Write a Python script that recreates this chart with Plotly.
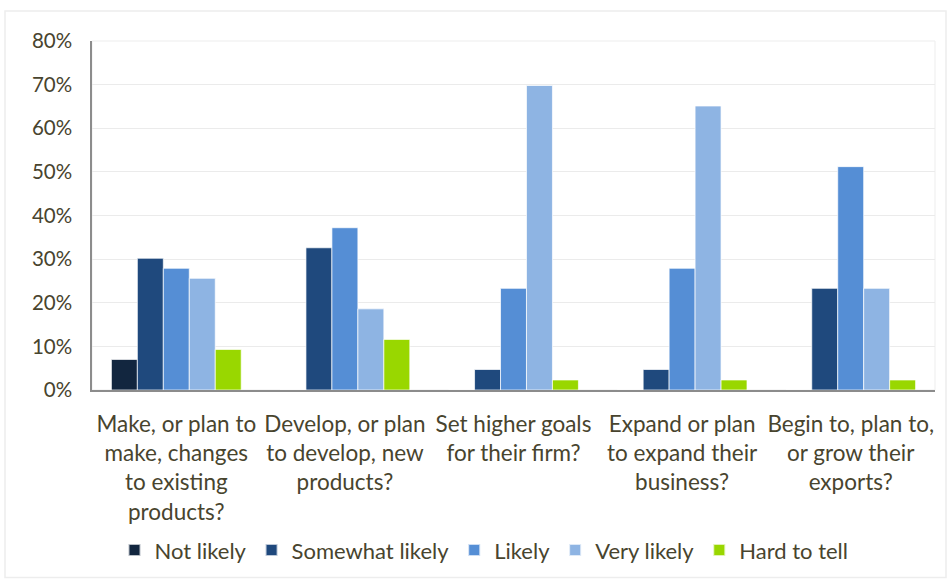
import plotly.graph_objects as go

# Survey questions (x categories)
categories = [
    "Make, or plan to<br>make, changes<br>to existing<br>products?",
    "Develop, or plan<br>to develop, new<br>products?",
    "Set higher goals<br>for their firm?",
    "Expand or plan<br>to expand their<br>business?",
    "Begin to, plan to,<br>or grow their<br>exports?",
]

# Share of respondents per answer (fractions)
not_likely      = [0.070, 0.000, 0.000, 0.000, 0.000]
somewhat_likely = [0.302, 0.326, 0.047, 0.047, 0.233]
likely          = [0.279, 0.372, 0.233, 0.279, 0.512]
very_likely     = [0.256, 0.186, 0.698, 0.651, 0.233]
hard_to_tell    = [0.093, 0.116, 0.023, 0.023, 0.023]

series_names = ["Not likely", "Somewhat likely", "Likely", "Very likely", "Hard to tell"]
series_values = [not_likely, somewhat_likely, likely, very_likely, hard_to_tell]
series_colors = ["#12263F", "#1F497D", "#558ED5", "#8EB4E3", "#99D700"]

y_ticks = [0, 0.1, 0.2, 0.3, 0.4, 0.5, 0.6, 0.7, 0.8]
y_tick_labels = ["0%", "10%", "20%", "30%", "40%", "50%", "60%", "70%", "80%"]

FONT = "Lato, 'Open Sans', sans-serif"
TEXT_COLOR = "#48442E"

fig = go.Figure()
for name, vals, col in zip(series_names, series_values, series_colors):
    fig.add_trace(go.Bar(
        name=name, x=categories, y=vals,
        marker=dict(color=col, line=dict(color="rgba(255,255,255,0.7)", width=1)),
    ))

# plot area: x 92..935, y 41..391 in pixels
L, R, T, B = 92, 14, 41, 191
W, H = 949, 582
pw, ph = W - L - R, H - T - B

fig.update_layout(
    width=W, height=H,
    margin=dict(l=L, r=R, t=T, b=B),
    barmode="group", bargap=0.23, bargroupgap=0,
    plot_bgcolor="white", paper_bgcolor="white",
    font=dict(family=FONT, size=20, color=TEXT_COLOR),
    showlegend=True,
    legend=dict(orientation="h", x=0.465, xanchor="center", y=-0.455, yanchor="middle",
                font=dict(family=FONT, size=22, color=TEXT_COLOR),
                itemsizing="constant", traceorder="normal", itemwidth=30),
    xaxis=dict(showgrid=False, showline=True, linecolor="#8C8C8C", linewidth=1.5,
               ticks="", ticklabelstandoff=13,
               tickfont=dict(family=FONT, size=22.5, color=TEXT_COLOR)),
    yaxis=dict(range=[0, 0.8], tickvals=y_ticks, ticktext=y_tick_labels,
               showgrid=True, gridcolor="#EBEBEB", gridwidth=1,
               showline=True, linecolor="#8C8C8C", linewidth=1.5, zeroline=False,
               ticks="", ticklabelstandoff=14,
               tickfont=dict(family=FONT, size=20.5, color=TEXT_COLOR)),
    shapes=[
        # plot-area frame
        dict(type="rect", xref="paper", yref="paper", x0=0, x1=1, y0=0, y1=1,
             line=dict(color="#EDEDED", width=1), layer="below"),
        # outer chart border
        dict(type="rect", xref="paper", yref="paper",
             x0=(5 - L) / pw, x1=(946 - L) / pw,
             y0=(H - B - 579) / ph, y1=(H - B - 11) / ph,
             line=dict(color="#EDEDED", width=1.5), layer="below"),
    ],
)

fig.write_html("out.html")
